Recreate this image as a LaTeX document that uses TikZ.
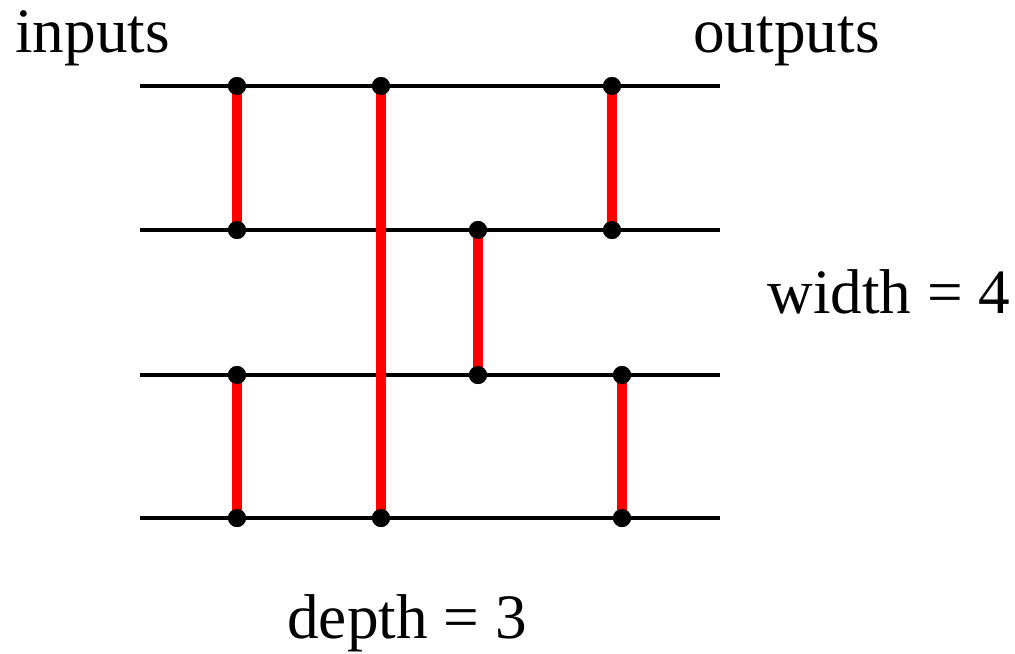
\documentclass[tikz,border=0pt]{standalone}
\usepackage{fontspec}
\setmainfont{Liberation Serif}
\begin{document}
\begin{tikzpicture}[x=0.02cm,y=-0.02cm,
  wire/.style={line width=2.8pt,black},
  comp/.style={line width=5.5pt,red},
  dot/.style={circle,fill=black,inner sep=0pt,minimum size=0.36cm},
  lbl/.style={inner sep=0pt,font=\fontsize{36}{40}\selectfont}]
\useasboundingbox (0,0) rectangle (1015,653);
% wire endpoints
\foreach \i/\y in {1/86,2/230,3/375,4/518}{
  \coordinate (l\i) at (140,\y);
  \coordinate (r\i) at (720,\y);
  \draw[wire] (l\i) -- (r\i);
}
% comparators
\foreach \n/\x/\a/\b in {a/237/86/230, b/237/375/518, c/381/86/518, d/478/230/375, e/612/86/230, f/622/375/518}{
  \node[dot] (\n t) at (\x,\a) {};
  \node[dot] (\n b) at (\x,\b) {};
  \draw[comp] (\n t.center) -- (\n b.center);
  \node[dot] at (\n t.center) {};
  \node[dot] at (\n b.center) {};
}
\node[lbl,anchor=base west] (inputs) at (15,52) {inputs};
\node[lbl,anchor=base west] (outputs) at (693,52) {outputs};
\node[lbl,anchor=base west] (width) at (767,313) {width = 4};
\node[lbl,anchor=base west] (depth) at (287,638) {depth = 3};
\end{tikzpicture}
\end{document}
